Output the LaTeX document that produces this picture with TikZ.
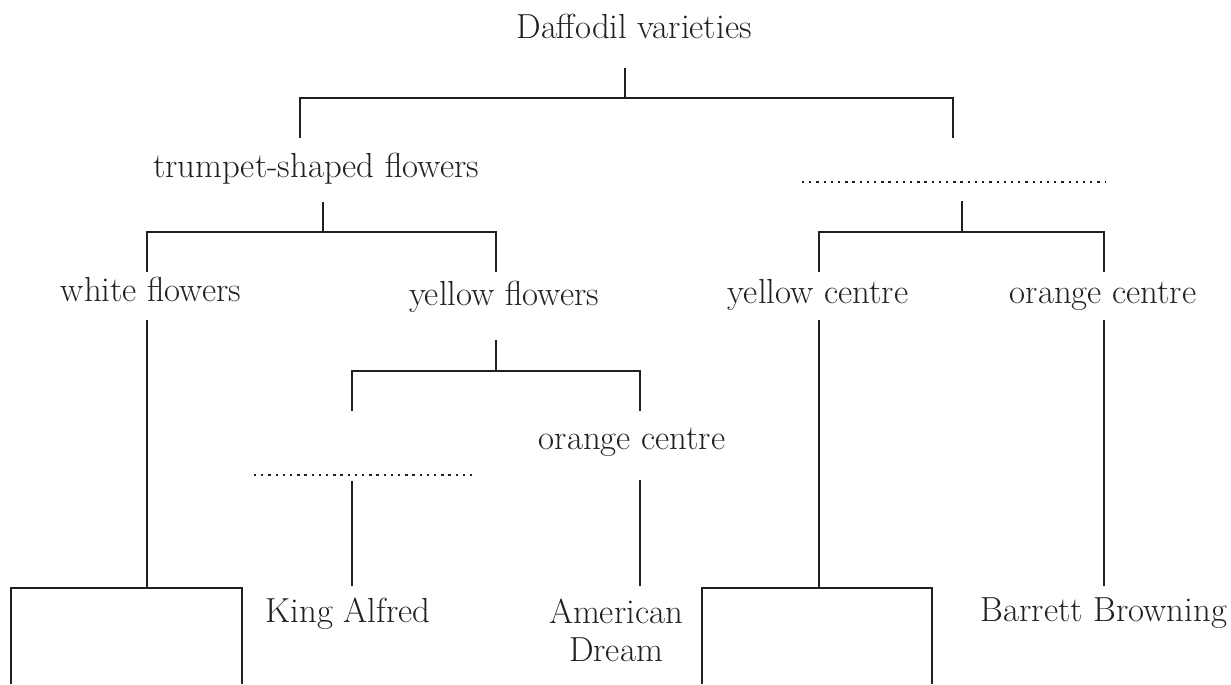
\documentclass[tikz,border=0pt]{standalone}
\usepackage{tikz}
\usepackage{xcolor}
\usetikzlibrary{positioning,calc}
\definecolor{ink}{HTML}{231F20}
\tikzset{
  label/.style  = {inner sep=0pt, text=ink, align=center, font=\fontsize{19.8}{21.6}\selectfont},
  branch/.style = {draw=ink, line width=1.5pt},
  blank/.style  = {draw=ink, line width=1.5pt, dash pattern=on 1.3pt off 2.8pt},
  answer/.style = {draw=ink, line width=1.5pt}
}

\begin{document}
\begin{tikzpicture}[x=0.02cm, y=-0.02cm]
\useasboundingbox (0,0) rectangle (1231,684);

% labels
\node[label, anchor=base] (root) at (634,38) {Daffodil varieties};
\node[label, anchor=base] (trumpet) at (316,177) {trumpet-shaped flowers};
\node[label, anchor=base] (white) at (151,301) {white flowers};
\node[label, anchor=base] (yellow) at (504,305) {yellow flowers};
\node[label, anchor=base] (ycentre) at (818,303) {yellow centre};
\node[label, anchor=base] (ocentre) at (1103,303) {orange centre};
\node[label, anchor=base] (ocentreB) at (632,449) {orange centre};
\node[label, anchor=base] (alfred) at (348,622) {King Alfred};
\node[label, anchor=north] (dream) at (616,599) {American\\Dream};
\node[label, anchor=base] (barrett) at (1104,621) {Barrett Browning};

% blanks to fill in
\coordinate (kindL) at (802,182);
\coordinate (kindR) at (1106,182);
\draw[blank] (kindL) -- (kindR);
\coordinate (nameL) at (254,475);
\coordinate (nameR) at (474,475);
\draw[blank] (nameL) -- (nameR);

% first split
\coordinate (rootS) at (625,68);
\coordinate (forkA) at (625,98);
\coordinate (trumpetN) at (300,138);
\coordinate (kindN) at (953,138);
\draw[branch] (rootS) -- (forkA);
\draw[branch] (trumpetN) |- (forkA) -| (kindN);

% trumpet split
\coordinate (trumpetS) at (323,202);
\coordinate (forkB) at (323,232);
\coordinate (whiteN) at (147,272);
\coordinate (yellowN) at (496,272);
\draw[branch] (trumpetS) -- (forkB);
\draw[branch] (whiteN) |- (forkB) -| (yellowN);

% other split
\coordinate (kindS) at (962,201);
\coordinate (forkC) at (962,232);
\coordinate (ycentreN) at (819,272);
\coordinate (ocentreN) at (1104,272);
\draw[branch] (kindS) -- (forkC);
\draw[branch] (ycentreN) |- (forkC) -| (ocentreN);

% yellow split
\coordinate (yellowS) at (496,340);
\coordinate (forkD) at (496,371);
\coordinate (nameN) at (352,411);
\coordinate (ocentreBN) at (640,411);
\draw[branch] (yellowS) -- (forkD);
\draw[branch] (nameN) |- (forkD) -| (ocentreBN);

% answer boxes
\coordinate (boxA) at (147,588);
\coordinate (boxB) at (819,588);
\draw[answer] (11,684) |- (242,588) -- (242,684);
\draw[answer] (702,684) |- (932,588) -- (932,684);

% leaves
\draw[branch] (147,320) -- (boxA);
\draw[branch] (819,320) -- (boxB);
\draw[branch] (352,481) -- (352,586);
\draw[branch] (640,480) -- (640,586);
\draw[branch] (1104,320) -- (1104,586);
\end{tikzpicture}
\end{document}
